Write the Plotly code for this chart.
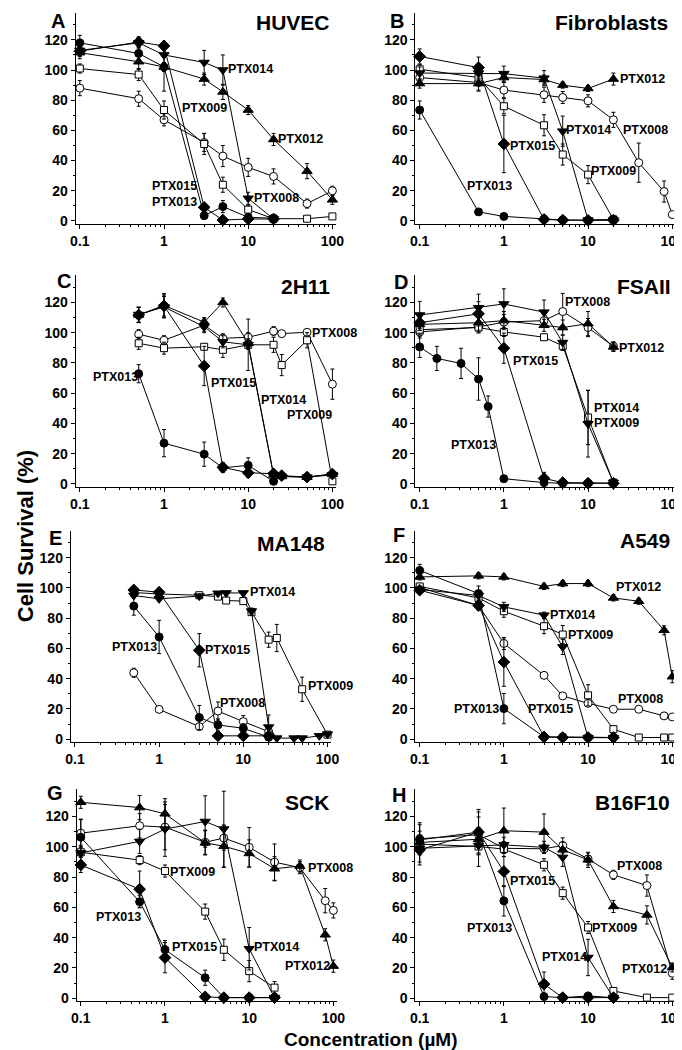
import plotly.graph_objects as go

W, H = 682, 1050
FONT = "Liberation Sans, Arial, Helvetica, sans-serif"

# ---------------- data (concentration in uM, survival %) ----------------
# Panel A - HUVEC
CONC_A = [0.1, 0.5, 1, 3, 5, 10, 20, 50, 100]
A_008 = [88, 81, 67, 52, 43, 35.5, 29.5, 11.5, 20]
A_008_E = [5, 5, 4, 6, 7, 6, 5, 3, 3]
A_009 = [101, 97, 73.5, 51, 24, 7.5, 1.5, 1.5, 3]
A_009_E = [3, 4, 6, 7, 5, 3, 1, 1, 1]
A_012 = [111.5, 105.5, 102, 94, 85.5, 73.5, 54, 33, 14]
A_012_E = [4, 5, 3, 4, 5, 3, 4, 5, 3]
CONC_A2 = [0.1, 0.5, 1, 3, 5, 10, 20]
A_013 = [118, 111, 102, 3.5, 9.5, 2.4, 1.8]
A_013_E = [5, 4, 16, 1, 4, 1, 1]
A_014 = [113, 118, 110, 105, 100, 15, 1.3]
A_014_E = [4, 4, 5, 8, 10, 4, 1]
A_015 = [112.5, 118.5, 116, 9, 0.6, 1.3, 1.3]
A_015_E = [3, 3, 3, 2, 1, 1, 1]

# Panel B - Fibroblasts
CONC_B = [0.1, 0.5, 1, 3, 5, 10, 20, 40, 80, 100]
B_008 = [95, 91.7, 86.7, 83.6, 81.8, 79.6, 67, 38.6, 19.5, 4.2]
B_008_E = [5, 5, 5, 5, 4, 4, 5, 13, 7, 2]
CONC_B2 = [0.1, 0.5, 1, 3, 5, 10, 20]
B_009 = [100.5, 95, 76, 63.4, 44, 30.7, 1]
B_009_E = [3, 4, 5, 7, 7, 6, 1]
B_012 = [91, 91, 95, 93.7, 90, 87.8, 94]
B_012_E = [3, 5, 3, 3, 2, 2, 4]
B_013 = [73.5, 6, 3, 1.3, 0.6, 0.4, 1]
B_013_E = [6, 1, 1, 1, 1, 1, 1]
B_014 = [98, 98, 97.6, 94.6, 59.5, 0.6, 0.6]
B_014_E = [4, 4, 5, 5, 10, 1, 1]
B_015 = [109, 101.6, 51, 1, 0.6, 0.4, 0.6]
B_015_E = [5, 7, 19, 1, 1, 1, 1]

# Panel C - 2H11
CONC_C = [0.5, 1, 3, 5, 10, 20, 25, 50, 100]
C_008 = [99, 95, 105, 96.3, 97, 101, 99.4, 100.3, 66]
C_008_E = [3, 3, 4, 3, 3, 3, 1, 1, 10]
C_009 = [93, 89.8, 90.7, 88.7, 92, 92, 78.6, 95, 1.75]
C_009_E = [4, 4, 2, 5, 3, 5, 7, 5, 1]
C_012 = [111.7, 118, 107, 120, 93, 6, 5, 4.5, 6.5]
C_012_E = [5, 7, 3, 3, 3, 1, 1, 1, 1]
C_014 = [112, 117, 104, 94, 92, 6, 5, 4.5, 6]
C_014_E = [5, 7, 4, 4, 17, 1, 1, 1, 1]
CONC_C2 = [0.5, 1, 3, 5, 10, 20]
C_013 = [72.9, 27, 19.7, 10.7, 12.3, 1.75]
C_013_E = [6, 9, 8, 3, 5, 1]
C_015 = [111.7, 117.8, 78, 11, 7.4, 6.8, 5.5, 4.6, 6.6]
C_015_E = [5, 8, 13, 3, 3, 1, 1, 1, 1]

# Panel D - FSAII
CONC_D = [0.1, 0.5, 1, 3, 5, 10, 20]
D_008 = [100.5, 103.8, 107, 108, 114, 103.4, 91]
D_008_E = [4, 4, 5, 4, 12, 6, 3]
D_009 = [102, 103.4, 100.5, 97, 91.3, 44, 1]
D_009_E = [3, 3, 3, 2, 3, 18, 1]
D_012 = [105.5, 106.6, 108, 104.9, 103.4, 106, 90.6]
D_012_E = [4, 5, 6, 4, 5, 8, 3]
CONC_D13 = [0.1, 0.16, 0.31, 0.5, 0.65, 1, 3, 5, 10, 20]
D_013 = [90.6, 83, 79.7, 69.4, 51.2, 3.5, 0.9, 0.5, 0.5, 0.5]
D_013_E = [7, 8, 10, 14, 7, 1, 1, 1, 1, 1]
D_014 = [111.7, 116.5, 119, 113.6, 93.5, 39.8, 1]
D_014_E = [9, 9, 10, 8, 5, 22, 1]
D_015 = [106.6, 112.5, 89.8, 3.7, 0.9, 0.5, 0.5]
D_015_E = [5, 8, 10, 4, 1, 1, 1]

# Panel E - MA148
CONC_E = [0.5, 1, 3, 5, 10, 20]
E_008 = [43.9, 19.7, 8.3, 18.6, 11.6, 5]
E_008_E = [3, 1, 2, 6, 4, 2]
CONC_E09 = [0.5, 1, 3, 5, 6.25, 10, 12.5, 20, 25, 50, 100]
E_009 = [97, 96, 95.2, 94.3, 91.7, 91.3, 84, 65.8, 66.9, 33, 3]
E_009_E = [1, 1, 1, 2, 2, 2, 2, 5, 9, 8, 1]
E_013 = [88, 67.6, 14.3, 9.4, 7.2, 1.3]
E_013_E = [6, 11, 8, 4, 3, 1]
CONC_E14 = [0.5, 1, 3, 5, 6.25, 10, 12.5, 20, 25, 40, 50, 80, 100]
E_014 = [95, 92.8, 94.6, 96.5, 96.7, 96.7, 84.7, 8, 0.7, 0.7, 0.7, 2.2, 3.3]
E_014_E = [1, 1, 1, 1, 1, 1, 2, 8, 1, 1, 1, 1, 1]
E_015 = [98.7, 97.2, 58.8, 2.2, 2.2, 2.2]
E_015_E = [1, 1, 11, 1, 1, 1]

# Panel F - A549
CONC_F = [0.1, 0.5, 1, 3, 5, 10, 20, 40, 80, 100]
F_008 = [100.4, 88.4, 63.3, 42.2, 28.6, 23.7, 19.8, 19.8, 15.4, 14.7]
F_008_E = [2, 3, 4, 2, 1, 2, 1, 1, 1, 1]
F_009 = [101, 93.4, 84.6, 74.7, 69.2, 29, 6.6, 1.1, 1.1, 1.1]
F_009_E = [2, 3, 4, 5, 6, 7, 2, 1, 1, 1]
F_012 = [107.3, 108, 107.3, 101, 102.9, 102.9, 93.4, 91.2, 72, 41.3]
F_012_E = [2, 2, 2, 2, 2, 2, 2, 2, 3, 4]
CONC_F2 = [0.1, 0.5, 1, 3, 5, 10, 20]
F_013 = [111.6, 96.3, 20.2, 1.5, 1.5, 1.1, 1.1]
F_013_E = [4, 5, 10, 1, 1, 1, 1]
F_014 = [99, 95, 87.5, 82, 61, 1, 1]
F_014_E = [2, 3, 3, 2, 5, 1, 1]
F_015 = [98.5, 88.4, 51, 1.5, 1.1, 1.1, 1.1]
F_015_E = [2, 2, 16, 1, 1, 1, 1]

# Panel G - SCK
CONC_G = [0.1, 0.5, 1, 3, 5, 10, 20, 40, 80, 100]
G_008 = [109, 113.9, 113, 103, 105.8, 99.7, 89.9, 86.2, 64.4, 58]
G_008_E = [9, 8, 15, 8, 8, 13, 12, 4, 8, 5]
G_012 = [129.4, 125.9, 121.8, 102.6, 100.4, 95.6, 85.5, 87.3, 41.9, 21.2]
G_012_E = [4, 8, 10, 8, 14, 9, 8, 4, 4, 4]
CONC_G2 = [0.1, 0.5, 1, 3, 5, 10, 20]
G_009 = [96.4, 91.2, 84, 57.2, 32, 17.9, 7]
G_009_E = [3, 3, 4, 5, 7, 7, 4]
G_013 = [106.3, 63.7, 32.1, 13.5, 0.4, 0.4, 0.4]
G_013_E = [12, 4, 6, 5, 1, 1, 1]
G_014 = [96, 103.6, 111.7, 116.7, 111.7, 32.7, 0.4]
G_014_E = [5, 8, 18, 17, 25, 14, 1]
G_015 = [88, 72, 26.8, 0.9, 0.4, 0.4, 0.4]
G_015_E = [5, 12, 10, 1, 1, 1, 1]

# Panel H - B16F10
CONC_H = [0.1, 0.5, 1, 3, 5, 10, 20, 50, 100]
H_008 = [105.3, 108, 99, 98.7, 100.9, 92, 81.5, 74.4, 16.5]
H_008_E = [5, 5, 3, 3, 5, 4, 3, 7, 4]
H_009 = [101.8, 100.2, 98.5, 88.1, 69.4, 46.7, 4.8, 0.4, 0.4]
H_009_E = [5, 5, 5, 4, 4, 4, 1, 1, 1]
H_012 = [102.9, 105, 110.6, 109.7, 98, 91.4, 60.6, 55, 20.3]
H_012_E = [13, 18, 15, 12, 5, 5, 4, 6, 3]
CONC_H2 = [0.1, 0.5, 1, 3, 5, 10, 20]
H_013 = [104.6, 109.7, 64.3, 1.1, 0.4, 1.5, 0.4]
H_013_E = [10, 15, 10, 1, 1, 1, 1]
H_014 = [99, 100.9, 101.3, 99.6, 93, 26.9, 0.4]
H_014_E = [4, 5, 5, 4, 6, 12, 1]
H_015 = [98, 109.7, 83.7, 9.3, 0.4, 0.4, 0.4]
H_015_E = [10, 10, 10, 8, 1, 1, 1]

PANEL_LETTERS = ["A", "B", "C", "D", "E", "F", "G", "H"]
PANEL_TITLES = ["HUVEC", "Fibroblasts", "2H11", "FSAII", "MA148", "A549", "SCK", "B16F10"]
X_TICKS = [0.1, 1, 10, 100]
X_TICK_TEXT = ["0.1", "1", "10", "100"]
Y_TICKS = [0, 20, 40, 60, 80, 100, 120]

# series per panel: (compound, conc, values, errors)
PANEL_SERIES = [
    [("PTX008", CONC_A, A_008, A_008_E), ("PTX009", CONC_A, A_009, A_009_E),
     ("PTX012", CONC_A, A_012, A_012_E), ("PTX013", CONC_A2, A_013, A_013_E),
     ("PTX014", CONC_A2, A_014, A_014_E), ("PTX015", CONC_A2, A_015, A_015_E)],
    [("PTX008", CONC_B, B_008, B_008_E), ("PTX009", CONC_B2, B_009, B_009_E),
     ("PTX012", CONC_B2, B_012, B_012_E), ("PTX013", CONC_B2, B_013, B_013_E),
     ("PTX014", CONC_B2, B_014, B_014_E), ("PTX015", CONC_B2, B_015, B_015_E)],
    [("PTX008", CONC_C, C_008, C_008_E), ("PTX009", CONC_C, C_009, C_009_E),
     ("PTX012", CONC_C, C_012, C_012_E), ("PTX014", CONC_C, C_014, C_014_E),
     ("PTX013", CONC_C2, C_013, C_013_E), ("PTX015", CONC_C, C_015, C_015_E)],
    [("PTX008", CONC_D, D_008, D_008_E), ("PTX009", CONC_D, D_009, D_009_E),
     ("PTX012", CONC_D, D_012, D_012_E), ("PTX013", CONC_D13, D_013, D_013_E),
     ("PTX014", CONC_D, D_014, D_014_E), ("PTX015", CONC_D, D_015, D_015_E)],
    [("PTX008", CONC_E, E_008, E_008_E), ("PTX009", CONC_E09, E_009, E_009_E),
     ("PTX013", CONC_E, E_013, E_013_E), ("PTX014", CONC_E14, E_014, E_014_E),
     ("PTX015", CONC_E, E_015, E_015_E)],
    [("PTX008", CONC_F, F_008, F_008_E), ("PTX009", CONC_F, F_009, F_009_E),
     ("PTX012", CONC_F, F_012, F_012_E), ("PTX013", CONC_F2, F_013, F_013_E),
     ("PTX014", CONC_F2, F_014, F_014_E), ("PTX015", CONC_F2, F_015, F_015_E)],
    [("PTX008", CONC_G, G_008, G_008_E), ("PTX009", CONC_G2, G_009, G_009_E),
     ("PTX012", CONC_G, G_012, G_012_E), ("PTX013", CONC_G2, G_013, G_013_E),
     ("PTX014", CONC_G2, G_014, G_014_E), ("PTX015", CONC_G2, G_015, G_015_E)],
    [("PTX008", CONC_H, H_008, H_008_E), ("PTX009", CONC_H, H_009, H_009_E),
     ("PTX012", CONC_H, H_012, H_012_E), ("PTX013", CONC_H2, H_013, H_013_E),
     ("PTX014", CONC_H2, H_014, H_014_E), ("PTX015", CONC_H2, H_015, H_015_E)],
]

# curve labels: (text, log10 concentration, survival, anchor)
PANEL_LABELS = [
    [("PTX014", 1.025, 101, "center"), ("PTX009", 0.477, 75, "center"), ("PTX012", 1.623, 54, "center"),
     ("PTX015", 0.119, 23, "center"), ("PTX013", 0.119, 12.7, "center"), ("PTX008", 1.332, 15, "center")],
    [("PTX012", 1.649, 94, "center"), ("PTX008", 1.688, 60.3, "center"), ("PTX014", 1.006, 60.3, "center"),
     ("PTX015", 0.336, 49.4, "center"), ("PTX009", 1.298, 33, "center"), ("PTX013", -0.17, 23, "center")],
    [("PTX013", -0.575, 71, "center"), ("PTX015", 0.826, 67, "center"), ("PTX014", 1.42, 55.8, "center"),
     ("PTX008", 1.73, 99.5, "left"), ("PTX009", 1.73, 45.5, "center")],
    [("PTX008", 0.994, 120, "center"), ("PTX012", 1.633, 90.2, "center"), ("PTX015", 0.374, 81.5, "center"),
     ("PTX014", 1.342, 50.4, "center"), ("PTX009", 1.342, 40.5, "center"), ("PTX013", -0.361, 25.6, "center")],
    [("PTX014", 1.342, 97, "center"), ("PTX013", -0.291, 61, "center"), ("PTX015", 0.808, 59, "center"),
     ("PTX008", 0.994, 23.7, "center"), ("PTX009", 1.75, 35, "left")],
    [("PTX012", 1.598, 100.7, "center"), ("PTX014", 0.816, 82.4, "center"), ("PTX009", 1.031, 69.2, "center"),
     ("PTX008", 1.617, 26.8, "center"), ("PTX013", -0.324, 20.2, "center"), ("PTX015", 0.551, 20.2, "center")],
    [("PTX009", 0.332, 83.4, "center"), ("PTX013", -0.556, 53.9, "center"), ("PTX015", 0.351, 33.8, "center"),
     ("PTX014", 1.328, 33.8, "center"), ("PTX008", 1.68, 85.7, "left"), ("PTX012", 1.69, 21.2, "center")],
    [("PTX008", 1.609, 87, "center"), ("PTX015", 0.341, 77.5, "center"), ("PTX013", -0.174, 46.3, "center"),
     ("PTX009", 1.318, 46.3, "center"), ("PTX014", 0.717, 27, "center"), ("PTX012", 1.674, 19.2, "center")],
]

# ---------------- styles / layout geometry ----------------
STYLE = {
    "PTX008": dict(symbol="circle", color="white", size=8),
    "PTX009": dict(symbol="square", color="white", size=7),
    "PTX012": dict(symbol="triangle-up", color="black", size=9),
    "PTX013": dict(symbol="circle", color="black", size=8),
    "PTX014": dict(symbol="triangle-down", color="black", size=9),
    "PTX015": dict(symbol="diamond", color="black", size=9),
}

X_PIX = [(63, 329), (410.5, 676.5), (63, 329), (410.5, 676.5),
         (58, 324), (410.5, 676.5), (64, 330), (410.5, 676.5)]
ROW_PIX = [(4.7, 217), (268.5, 481.3), (525, 737.7), (785, 998)]
# letter positions: (center x, top y) in pixels
LETTER_POS = [(45, 0), (392, 0), (51, 261), (396, 262), (42, 519), (394, 516), (42, 776), (394, 778)]
TITLE_POS = [(285, 15), (611, 15), (298, 280), (644, 280), (283, 538), (645, 535), (300, 798), (632, 798)]

X_RANGE = [-1.05, 2.04]
Y_RANGE = [-2, 138]
MINOR_X = [m * d for d in (0.1, 1, 10) for m in range(2, 10)]
MINOR_Y = [10, 30, 50, 70, 90, 110, 130]

fig = go.Figure()
layout = dict(
    width=W, height=H, margin=dict(l=0, r=0, t=0, b=0),
    paper_bgcolor="white", plot_bgcolor="white", showlegend=False,
    font=dict(family=FONT, color="black"),
)
annotations = []

for i in range(8):
    k = i + 1
    xa = "x" if k == 1 else f"x{k}"
    ya = "y" if k == 1 else f"y{k}"
    row = i // 2
    x0, x1 = X_PIX[i]
    yt, yb = ROW_PIX[row]
    tickfont = dict(family=FONT, size=14, color="black", weight="bold")
    layout["xaxis" if k == 1 else f"xaxis{k}"] = dict(
        type="log", range=X_RANGE, domain=[x0 / W, x1 / W], anchor=ya,
        tickvals=X_TICKS, ticktext=X_TICK_TEXT, ticks="outside", ticklen=4, tickwidth=1,
        tickcolor="black", showline=True, linecolor="black", linewidth=1,
        showgrid=False, zeroline=False, tickfont=tickfont,
        minor=dict(tickvals=MINOR_X, ticks="outside", ticklen=2, tickcolor="black", showgrid=False),
    )
    layout["yaxis" if k == 1 else f"yaxis{k}"] = dict(
        range=Y_RANGE, domain=[1 - yb / H, 1 - yt / H], anchor=xa,
        tickvals=Y_TICKS, ticks="outside", ticklen=4, tickwidth=1, tickcolor="black",
        showline=True, linecolor="black", linewidth=1, showgrid=False, zeroline=False,
        tickfont=tickfont,
        minor=dict(tickvals=MINOR_Y, ticks="outside", ticklen=2, tickcolor="black", showgrid=False),
    )
    for name, conc, vals, errs in PANEL_SERIES[i]:
        st = STYLE[name]
        fig.add_trace(go.Scatter(
            x=conc, y=vals, xaxis=xa, yaxis=ya, mode="lines+markers", name=name,
            line=dict(color="black", width=1),
            marker=dict(symbol=st["symbol"], color=st["color"], size=st["size"],
                        line=dict(color="black", width=1)),
            error_y=dict(type="data", array=errs, color="black", thickness=1, width=2),
            cliponaxis=False,
        ))
    for text, lx, ly, anc in PANEL_LABELS[i]:
        annotations.append(dict(
            text=text, x=lx, y=ly, xref=xa, yref=ya, showarrow=False,
            xanchor=anc, yanchor="middle",
            font=dict(family=FONT, size=12.5, color="black", weight="bold"),
        ))
    lx, ly = LETTER_POS[i]
    annotations.append(dict(text=PANEL_LETTERS[i], x=lx / W, y=1 - ly / H, xref="paper", yref="paper",
                            showarrow=False, xanchor="center", yanchor="top",
                            font=dict(family=FONT, size=20, color="black", weight="bold")))
    tx, ty = TITLE_POS[i]
    annotations.append(dict(text=PANEL_TITLES[i], x=tx / W, y=1 - ty / H, xref="paper", yref="paper",
                            showarrow=False, xanchor="center", yanchor="middle",
                            font=dict(family=FONT, size=21, color="black", weight="bold")))

annotations.append(dict(text="Cell Survival (%)", x=12 / W, y=1 - 531 / H, xref="paper", yref="paper",
                        showarrow=False, textangle=-90, xanchor="center", yanchor="middle",
                        font=dict(family=FONT, size=22, color="black", weight="bold")))
annotations.append(dict(text="Concentration (µM)", x=365 / W, y=1 / H, xref="paper", yref="paper",
                        showarrow=False, xanchor="center", yanchor="bottom",
                        font=dict(family=FONT, size=19, color="black", weight="bold")))
layout["annotations"] = annotations
fig.update_layout(**layout)
fig.write_html("out.html")
